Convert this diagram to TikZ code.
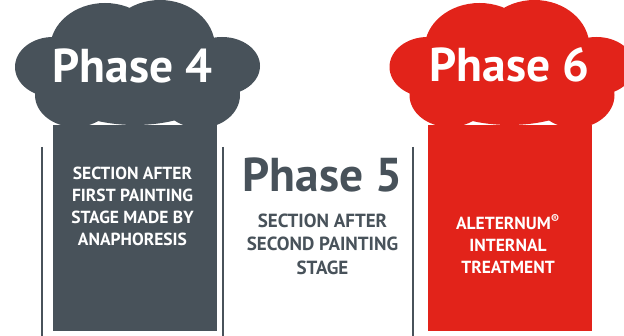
\documentclass[tikz,border=0pt]{standalone}
\usepackage{fontspec}
\setmainfont{PT Sans}
\definecolor{slate}{HTML}{48525A}
\definecolor{signal}{HTML}{E2231A}

\newcommand{\phasecloud}[2]{%
	\begin{scope}[shift={(#1,0)},fill=#2]
		\fill (-82,125) rectangle (82,331);
		\foreach \cx/\cy/\rx/\ry in {-82/67/38/30,87/66/38/29,-30/49/55/46,25/47/55/47,-60/95/40/32,65/95/40/33,0/80/90/45}
		{
			\fill (\cx,\cy) ellipse [x radius=\rx pt,y radius=\ry pt];
		}
	\end{scope}}

\begin{document}
\begin{tikzpicture}
	[x=1pt,y=-1pt,every node/.style={inner sep=0pt,align=center},
	title/.style={font=\bfseries\fontsize{47.5}{50}\selectfont,anchor=base},
	caption/.style={font=\bfseries\fontsize{17.5}{22}\selectfont},
	bigcaption/.style={font=\bfseries\fontsize{19}{23.5}\selectfont}]
	\useasboundingbox (0,0) rectangle (624,336);
	\clip (0,0) rectangle (624,336);
	\foreach \xline in {42,223,413}
	{
		\draw[slate,line width=1.5pt] (\xline,147) -- (\xline,336);
	}
	\phasecloud{135}{slate}
	\phasecloud{509.5}{signal}
	
	\node[title,white] (p4) at (132.5,83) {Phase 4};
	\node[caption,white] (p4text) at (132.5,206) {SECTION AFTER\\FIRST PAINTING\\STAGE MADE BY\\ANAPHORESIS};
	
	\node[title,slate] (p5) at (322.5,192) {Phase 5};
	\node[bigcaption,slate] (p5text) at (322.5,244) {SECTION AFTER\\SECOND PAINTING\\STAGE};
	
	\node[title,white] (p6) at (509.5,82) {Phase 6};
	\node[caption,white] (p6text) at (508,244) {ALETERNUM\textsuperscript{®}\\INTERNAL\\TREATMENT};
\end{tikzpicture}
\end{document}
